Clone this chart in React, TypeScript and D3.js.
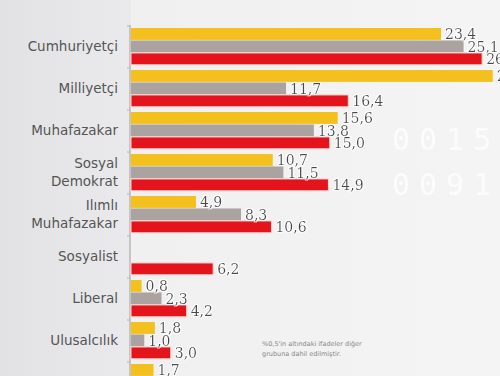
import React from "react";
import * as d3 from "d3";

const categories = [
  ["Cumhuriyetçi"],
  ["Milliyetçi"],
  ["Muhafazakar"],
  ["Sosyal", "Demokrat"],
  ["Ilımlı", "Muhafazakar"],
  ["Sosyalist"],
  ["Liberal"],
  ["Ulusalcılık"],
  ["Diğer"],
];
const seriesKeys = ["s1", "s2", "s3"];
const yellowValues = [23.4, 27.3, 15.6, 10.7, 4.9, 0, 0.8, 1.8, 1.7];
const grayValues = [25.1, 11.7, 13.8, 11.5, 8.3, 0, 2.3, 1.0, 1.2];
const redValues = [26.5, 16.4, 15.0, 14.9, 10.6, 6.2, 4.2, 3.0, 2.1];
const seriesValues = [yellowValues, grayValues, redValues];
const colors = ["#f4c01e", "#aaa39f", "#e3141c"];
const footnote = ["%0,5'in altındaki ifadeler diğer", "grubuna dahil edilmiştir."];
const bgDigits = ["0015", "0091"];

const W = 500;
const H = 376;

export default function App() {
  const names = categories.map((c) => c.join(" "));
  const y = d3.scaleBand<string>().domain(names).range([25.7, 25.7 + 42 * 9]).paddingInner(0.11).paddingOuter(0.055);
  const yi = d3.scaleBand<string>().domain(seriesKeys).range([0, y.bandwidth()]).padding(0);
  const x = d3.scaleLinear().domain([0, 10]).range([131, 263.5]);
  const fmt = (v: number) => d3.format(".1f")(v).replace(".", ",");

  return (
    <svg width={W} height={H} style={{ position: "absolute", left: 0, top: 0 }}>
      <defs>
        <linearGradient id="bg" x1="0" y1="0" x2="1" y2="0">
          <stop offset="0" stopColor="#e2e2e4" />
          <stop offset="0.26" stopColor="#eaeaec" />
          <stop offset="1" stopColor="#f3f3f3" />
        </linearGradient>
        <filter id="halo" x="-10%" y="-20%" width="120%" height="140%">
          <feMorphology in="SourceAlpha" operator="dilate" radius="1.2" result="d" />
          <feFlood floodColor="#ffffff" floodOpacity="0.85" />
          <feComposite in2="d" operator="in" result="w" />
          <feMerge>
            <feMergeNode in="w" />
            <feMergeNode in="SourceGraphic" />
          </feMerge>
        </filter>
      </defs>
      <rect width={W} height={H} fill="url(#bg)" />
      <rect x={131} y={0} width={W - 131} height={H} fill="#f6f6f6" opacity={0.5} />
      {bgDigits.map((t, i) => (
        <text key={i} x={392} y={150 + i * 45} fontSize={30} letterSpacing={9} fontFamily="DejaVu Sans Mono" fill="#ffffff" opacity={0.75}>
          {t}
        </text>
      ))}
      <line x1={130} x2={130} y1={25} y2={H} stroke="#b8b8b8" strokeWidth={1.5} />
      {names.map((n) => (
        <line key={"t" + n} x1={127} x2={130} y1={(y(n) as number) - 2} y2={(y(n) as number) - 2} stroke="#b8b8b8" />
      ))}
      {names.map((n, ci) => (
        <g key={n}>
          {seriesKeys.map((k, si) => {
            const v = seriesValues[si][ci];
            if (!v) return null;
            const by = (y(n) as number) + (yi(k) as number);
            return (
              <rect
                key={k}
                x={x(0)}
                y={by}
                width={x(v) - x(0)}
                height={yi.bandwidth() - 0.6}
                fill={colors[si]}
                stroke={si === 2 ? "#ffd6d0" : "none"}
                strokeWidth={si === 2 ? 1 : 0}
              />
            );
          })}
        </g>
      ))}
      {names.map((n, ci) => (
        <g key={"l" + n}>
          {seriesKeys.map((k, si) => {
            const v = seriesValues[si][ci];
            if (!v) return null;
            const cy = (y(n) as number) + (yi(k) as number) + yi.bandwidth() / 2;
            return (
              <text
                key={k}
                x={x(v) + 4}
                y={cy + 5}
                fontSize={14}
                fontFamily="DejaVu Serif"
                fill="#4a4a4a"
                filter="url(#halo)"
              >
                {fmt(v)}
              </text>
            );
          })}
        </g>
      ))}
      {categories.map((lines, ci) => {
        const cy = (y(names[ci]) as number) + y.bandwidth() / 2;
        const lh = 18;
        const y0 = cy - ((lines.length - 1) * lh) / 2 + 4.5;
        return (
          <text key={"c" + ci} textAnchor="end" fontSize={13.5} fontFamily="DejaVu Sans" fill="#555">
            {lines.map((l, li) => (
              <tspan key={li} x={118} y={y0 + li * lh}>
                {l}
              </tspan>
            ))}
          </text>
        );
      })}
      {footnote.map((t, i) => (
        <text key={"f" + i} x={262} y={346 + i * 10} fontSize={6.5} fontFamily="DejaVu Sans" fill="#888">
          {t}
        </text>
      ))}
    </svg>
  );
}
